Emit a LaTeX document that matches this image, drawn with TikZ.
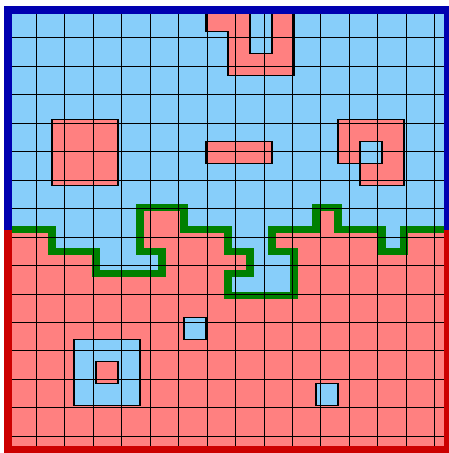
\documentclass[tikz,border=0pt]{standalone}
\definecolor{cellblue}{RGB}{135,206,250}
\definecolor{cellred}{RGB}{255,128,128}
\definecolor{edgeblue}{RGB}{0,0,176}
\definecolor{edgered}{RGB}{204,0,0}
\definecolor{pathgreen}{RGB}{0,128,0}
\tikzset{
  redcell/.style={fill=cellred},
  bluecell/.style={fill=cellblue},
  gridline/.style={black, line width=1pt},
  patchline/.style={black, line width=1.3pt},
  bordertop/.style={edgeblue, line width=8pt, line join=miter},
  borderbot/.style={edgered, line width=8pt, line join=miter},
  frontier/.style={pathgreen, line width=7.5pt, line join=miter}
}
\newcommand{\rc}[2]{\fill[redcell] (#1,#2) rectangle ++(1,1);}
\newcommand{\bc}[2]{\fill[bluecell] (#1,#2) rectangle ++(1,1);}
\begin{document}
\begin{tikzpicture}[x=1pt,y=-1pt]
\useasboundingbox (0,0) rectangle (449,453);
\begin{scope}[shift={(8pt,-9.5pt)}, x=22pt, y=-22pt]
  % base halves
  \fill[bluecell] (0,0) rectangle (20,10);
  \fill[redcell] (0,10) rectangle (20,20);
  % red patches in the blue half
  \foreach \c/\r in {9/0,10/0,12/0,10/1,12/1,10/2,11/2,12/2,
                     2/5,3/5,4/5,2/6,3/6,4/6,2/7,3/7,4/7,
                     9/6,10/6,11/6,
                     15/5,16/5,17/5,15/6,17/6,16/7,17/7,
                     6/9,7/9,14/9} {\rc{\c}{\r}}
  % blue patches in the red half
  \foreach \c/\r in {2/10,3/10,4/10,5/10,10/10,11/10,17/10,
                     4/11,5/11,6/11,11/11,12/11,
                     10/12,11/12,12/12,
                     8/14,
                     3/15,4/15,5/15,3/16,5/16,3/17,4/17,5/17,
                     14/17} {\bc{\c}{\r}}
  % frontier
  \draw[frontier] (0,10) -- (2,10) -- (2,11) -- (4,11) -- (4,12) -- (7,12)
     -- (7,11) -- (6,11) -- (6,9) -- (8,9) -- (8,10) -- (10,10) -- (10,11)
     -- (11,11) -- (11,12) -- (10,12) -- (10,13) -- (13,13) -- (13,11)
     -- (12,11) -- (12,10) -- (14,10) -- (14,9) -- (15,9) -- (15,10)
     -- (17,10) -- (17,11) -- (18,11) -- (18,10) -- (20,10);
  % grid
  \draw[gridline] (0,0) grid (20,20);
  % patch outlines
  \draw[patchline] (9,0) -- (9,1) -- (10,1) -- (10,3) -- (13,3) -- (13,0);
  \draw[patchline] (11,0) -- (11,2) -- (12,2) -- (12,0);
  \draw[patchline] (2,5) rectangle (5,8);
  \draw[patchline] (9,6) rectangle (12,7);
  \draw[patchline] (15,5) -- (18,5) -- (18,8) -- (16,8) -- (16,7) -- (15,7) -- cycle;
  \draw[patchline] (16,6) rectangle (17,7);
  \draw[patchline] (8,14) rectangle (9,15);
  \draw[patchline] (3,15) rectangle (6,18);
  \draw[patchline] (4,16) rectangle (5,17);
  \draw[patchline] (14,17) rectangle (15,18);
  % outer border
  \draw[bordertop] (0,10) -- (0,0) -- (20,0) -- (20,10);
  \draw[borderbot] (0,10) -- (0,20) -- (20,20) -- (20,10);
\end{scope}
\end{tikzpicture}
\end{document}
